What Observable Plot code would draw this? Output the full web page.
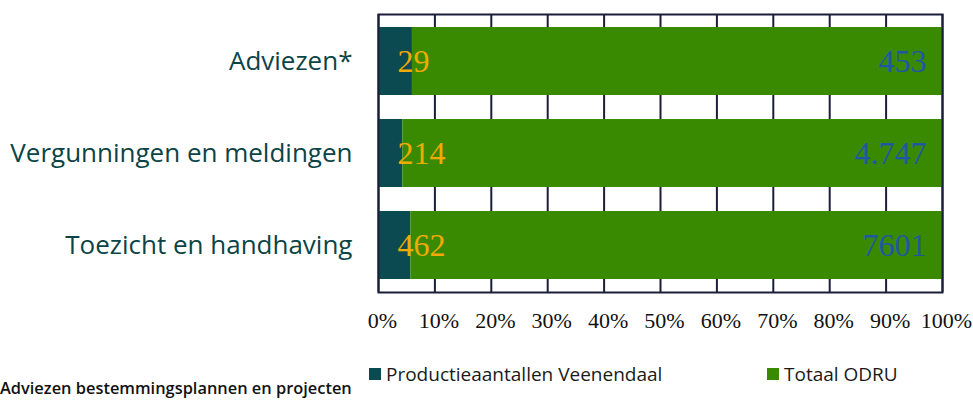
<!DOCTYPE html>
<html>
<head>
<meta charset="utf-8">
<script src="https://cdn.jsdelivr.net/npm/d3@7"></script>
<script src="https://cdn.jsdelivr.net/npm/@observablehq/plot@0.6"></script>
<style>
  html, body { margin: 0; padding: 0; background: #fff; }
  body { width: 973px; height: 403px; overflow: hidden; position: relative; }
  #chart { position: absolute; left: 0; top: 0; }
  .legend { position: absolute; top: 364px; display: flex; align-items: center;
            font-family: "Open Sans", sans-serif; font-size: 19px; line-height: 20px; color: #1a1a1a; white-space: nowrap; }
  .legend .sw { display: inline-block; width: 12px; height: 12px; margin-right: 5px; }
  #note { position: absolute; left: 0px; top: 379px; font-family: "Open Sans", sans-serif; font-weight: 600;
          font-size: 16.4px; line-height: 17px; color: #111; white-space: nowrap; }
</style>
</head>
<body>
<div id="chart"></div>
<div id="note">Adviezen bestemmingsplannen en projecten</div>
<script>
// ---- data ----
const categories = ["Adviezen*", "Vergunningen en meldingen", "Toezicht en handhaving"];
const seriesNames = ["Productieaantallen Veenendaal", "Totaal ODRU"];
const veenendaal = [29, 214, 462];
const odru = [453, 4747, 7601];
const veenendaalLabels = ["29", "214", "462"];
const odruLabels = ["453", "4.747", "7601"];
const xTicks = [0, 0.1, 0.2, 0.3, 0.4, 0.5, 0.6, 0.7, 0.8, 0.9, 1];
const xTickLabels = ["0%", "10%", "20%", "30%", "40%", "50%", "60%", "70%", "80%", "90%", "100%"];
const seriesColors = ["#0c4a52", "#398a00"];
const legendLefts = [369, 767];

// ---- table ----
const rows = [];
categories.forEach((c, i) => {
  rows.push({category: c, series: seriesNames[0], value: veenendaal[i], label: veenendaalLabels[i]});
  rows.push({category: c, series: seriesNames[1], value: odru[i], label: odruLabels[i]});
});
const gridColor = "#1b1e38";

const chart = Plot.plot({
  width: 973,
  height: 340,
  marginLeft: 378,
  marginRight: 31,
  marginTop: 14,
  marginBottom: 48,
  style: {background: "#fff"},
  x: {domain: [0, 1], label: null},
  y: {domain: categories, paddingInner: 0.26, paddingOuter: 0.14, label: null},
  color: {domain: seriesNames, range: seriesColors},
  marks: [
    Plot.gridX(xTicks, {stroke: gridColor, strokeOpacity: 1, strokeWidth: 2}),
    Plot.barX(rows, Plot.stackX({offset: "normalize", x: "value", y: "category", fill: "series"})),
    Plot.text(rows.filter(d => d.series === seriesNames[0]), {
      y: "category", text: "label", frameAnchor: "left", textAnchor: "start", dx: 19,
      fill: "#f2aa00", fontSize: 32, fontFamily: "Liberation Serif"
    }),
    Plot.text(rows.filter(d => d.series === seriesNames[1]), {
      y: "category", text: "label", frameAnchor: "right", textAnchor: "end", dx: -16,
      fill: "#1f58a0", fontSize: 32, fontFamily: "Liberation Serif"
    }),
    Plot.axisX({ticks: xTicks, tickFormat: (d, i) => xTickLabels[i], tickSize: 0, tickPadding: 20,
      fontSize: 22, fontFamily: "Liberation Serif", dx: 4, color: "#111", label: null}),
    Plot.axisY({tickSize: 0, tickPadding: 26, fontSize: 26, fontFamily: "Open Sans", color: "#0b4446", label: null}),
    Plot.frame({stroke: gridColor, strokeWidth: 2})
  ]
});
document.getElementById("chart").appendChild(chart);

// legend
seriesNames.forEach((s, i) => {
  const div = document.createElement("div");
  div.className = "legend";
  div.style.left = legendLefts[i] + "px";
  const sw = document.createElement("span");
  sw.className = "sw";
  sw.style.background = seriesColors[i];
  div.appendChild(sw);
  div.appendChild(document.createTextNode(s));
  document.body.appendChild(div);
});
</script>
</body>
</html>
